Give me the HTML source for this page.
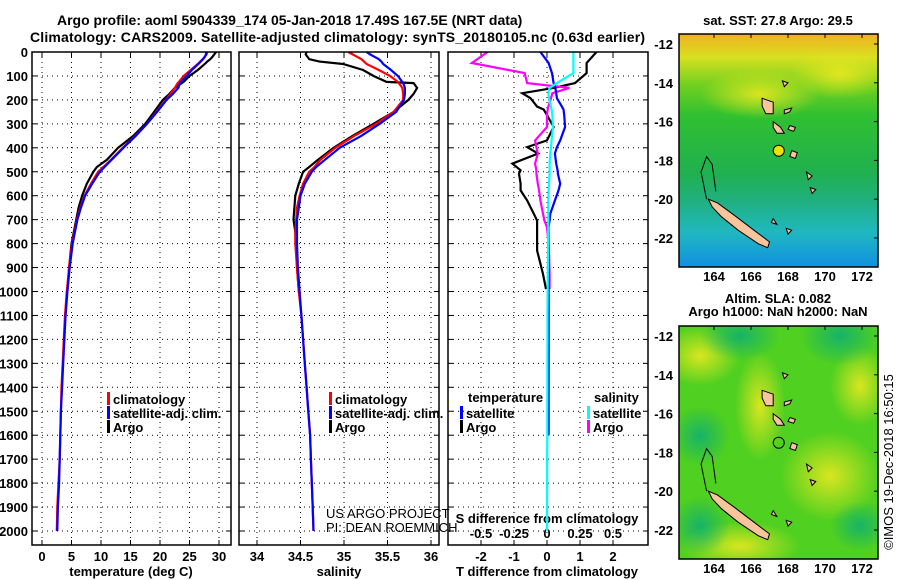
<!DOCTYPE html>
<html><head><meta charset="utf-8">
<style>
html,body{margin:0;padding:0;background:#fff;}
svg{display:block;font-family:"Liberation Sans",Arial,sans-serif;}
.b{font-weight:bold;font-size:13px;}
.t{font-weight:bold;font-size:14px;}
</style></head>
<body>
<svg id="chart" width="900" height="580" viewBox="0 0 900 580" xmlns="http://www.w3.org/2000/svg">
<defs>
<linearGradient id="sstg" x1="0" y1="0" x2="0" y2="1">
<stop offset="0" stop-color="#f0b020"/><stop offset="0.1" stop-color="#d8e020"/>
<stop offset="0.22" stop-color="#70d020"/><stop offset="0.35" stop-color="#30c030"/>
<stop offset="0.6" stop-color="#20b050"/><stop offset="0.72" stop-color="#20b080"/>
<stop offset="0.85" stop-color="#20b8c0"/><stop offset="1" stop-color="#1090e0"/>
</linearGradient>
<radialGradient id="y1" cx="0.5" cy="0.5" r="0.5"><stop offset="0" stop-color="#e8e820" stop-opacity="0.9"/><stop offset="1" stop-color="#e8e820" stop-opacity="0"/></radialGradient>
<radialGradient id="g1" cx="0.5" cy="0.5" r="0.5"><stop offset="0" stop-color="#10b070" stop-opacity="0.9"/><stop offset="1" stop-color="#10b070" stop-opacity="0"/></radialGradient>
<clipPath id="c1"><rect x="32" y="52" width="199" height="493"/></clipPath>
<clipPath id="c2"><rect x="239" y="52" width="200" height="493"/></clipPath>
<clipPath id="c3"><rect x="448" y="52" width="200" height="493"/></clipPath>
<clipPath id="cm1"><rect x="679" y="34" width="199" height="233"/></clipPath>
<clipPath id="cm2"><rect x="679" y="326" width="199" height="233"/></clipPath>
</defs>
<text class="t" x="57" y="25">Argo profile: aoml 5904339_174 05-Jan-2018 17.49S 167.5E (NRT data)</text>
<text class="t" x="30" y="42" textLength="615">Climatology: CARS2009. Satellite-adjusted climatology: synTS_20180105.nc (0.63d earlier)</text>
<g id="g"></g>
</svg>
<script>
const depths=[0,10,20,30,40,50,75,100,125,130,150,175,200,250,300,350,400,450,480,500,550,600,650,700,750,800,900,1000,1100,1200,1300,1400,1500,1600,1700,1800,1900,2000];
const tempClim=[28.0,27.9,27.6,27.2,26.8,26.4,25.2,24.0,23.2,23.0,22.5,21.8,21.0,19.4,17.8,15.8,13.7,11.7,10.4,9.5,8.3,7.2,6.5,5.9,5.5,5.1,4.6,4.2,3.9,3.7,3.5,3.3,3.2,3.1,3.0,2.8,2.6,2.5];
const tempSat=[27.8,27.8,27.6,27.3,26.9,26.5,25.4,24.5,23.6,23.4,23.1,22.2,21.1,19.5,17.8,15.9,13.8,11.8,10.6,9.8,8.5,7.3,6.6,6.0,5.6,5.2,4.7,4.3,4.0,3.8,3.6,3.4,3.2,3.1,3.0,2.9,2.7,2.6];
const tempArgo=[29.5,29.2,28.9,28.5,28.0,27.6,26.4,25.0,24.0,23.7,22.5,21.6,20.5,19.0,17.5,15.5,12.9,11.0,9.3,8.7,7.6,6.8,6.2,5.8,5.4,5.0,4.6,4.3];
const salClim=[35.05,35.1,35.15,35.2,35.23,35.26,35.4,35.53,35.62,35.63,35.67,35.68,35.68,35.57,35.37,35.12,34.9,34.73,34.66,34.6,34.53,34.49,34.46,34.45,34.44,34.44,34.46,34.48,34.51,34.53,34.55,34.57,34.59,34.61,34.62,34.63,34.64,34.65];
const salSat=[35.26,35.3,35.35,35.4,35.43,35.45,35.54,35.62,35.67,35.68,35.7,35.7,35.69,35.6,35.41,35.2,34.95,34.78,34.68,34.63,34.55,34.5,34.48,34.46,34.46,34.46,34.47,34.49,34.51,34.53,34.55,34.57,34.59,34.61,34.62,34.63,34.64,34.65];
const salArgo=[34.57,34.56,34.58,34.6,34.72,34.99,35.22,35.34,35.49,35.8,35.84,35.8,35.74,35.57,35.34,35.1,34.88,34.7,34.6,34.53,34.48,34.44,34.43,34.42,34.44,34.45,34.46,34.48];
const dDepths=[0,46,88,130,150,172,193,228,240,263,313,369,397,424,466,494,508,550,578,620,675,704,731,787,829,927,990,1100,1200,1300,1400,1500,1600,1700,1800,1900,2000];
const dTsat=[-0.2,0.05,0.15,0.2,0.25,0.28,0.3,0.45,0.5,0.52,0.55,0.4,0.3,0.24,0.28,0.32,0.33,0.4,0.35,0.24,0.1,0.08,0.05,0.05,0.05,0.05,0.05,0.05,0.05,0.05,0.05,0.05,0.05];
const dTargo=[1.5,1.2,1.2,0.85,0.2,-0.75,-0.5,-0.3,-0.1,0,0.2,0,-0.6,-0.27,-1.05,-0.8,-0.85,-0.8,-0.8,-0.6,-0.4,-0.3,-0.3,-0.3,-0.3,-0.12,-0.03];
const dSsat=[0.2,0.2,0.2,0.075,0.02,0.01,0.015,0.03,0.035,0.04,0.045,0.035,0.03,0.025,0.02,0.02,0.02,0.015,0.012,0.01,0.01,0.01,0.01,0.008,0.008,0.006,0.005,0.004,0.004,0.003,0.003,0.002,0.002,0.001,0.001,0,0];
const dSargo=[-0.45,-0.57,-0.17,-0.15,0.17,0.04,0.03,0.01,0.005,0,0,-0.09,-0.08,-0.07,-0.09,-0.08,-0.08,-0.07,-0.06,-0.05,-0.03,-0.02,0,0.01,0.015,0.02,0.02];
const tTicks=[0,5,10,15,20,25,30];
const sTicks=[34,34.5,35,35.5,36];
const sTickLabels=["34","34.5","35","35.5","36"];
const dTTicks=[-2,-1,0,1,2];
const dSTicks=[-0.5,-0.25,0,0.25,0.5];
const dSTickLabels=["-0.5","-0.25","0","0.25","0.5"];
const depthTicks=[0,100,200,300,400,500,600,700,800,900,1000,1100,1200,1300,1400,1500,1600,1700,1800,1900,2000];
const lonTicks=[164,166,168,170,172];
const latTicks=[-12,-14,-16,-18,-20,-22];

const NS='http://www.w3.org/2000/svg';
const G=document.getElementById('g');
function mk(tag,attrs,parent){const e=document.createElementNS(NS,tag);for(const k in attrs)e.setAttribute(k,attrs[k]);(parent||G).appendChild(e);return e;}
const yD=d=>52+d*0.2395;
const xT=v=>42+v*5.9;
const xS=v=>257+(v-34)*87;
const xDT=v=>547+v*33;
const xDS=v=>547+v*132;
const panels=[[32,199,'c1'],[239,200,'c2'],[448,200,'c3']];

function pathFrom(vals,dd,xf){let s='';for(let i=0;i<vals.length;i++){s+=(i?'L':'M')+xf(vals[i]).toFixed(1)+','+yD(dd[i]).toFixed(1);}return s;}
function series(vals,dd,xf,color,clip,name){
  const p=mk('path',{d:pathFrom(vals,dd,xf),fill:'none',stroke:color,'stroke-width':2.2,'clip-path':'url(#'+clip+')'});
  
  
}
// panels frames & grids
panels.forEach((pn,i)=>{
  const [x0,w]=pn;
  const grp=mk('g',{});
  
  
  depthTicks.forEach(d=>{mk('line',{x1:x0,x2:x0+w,y1:yD(d),y2:yD(d),stroke:'#000','stroke-width':1,'stroke-dasharray':'1,4'},grp);
    mk('line',{x1:x0,x2:x0+5,y1:yD(d),y2:yD(d),stroke:'#000'},grp);mk('line',{x1:x0+w-5,x2:x0+w,y1:yD(d),y2:yD(d),stroke:'#000'},grp);});
  const xs=i==0?tTicks.map(xT):i==1?sTicks.map(xS):dTTicks.map(xDT);
  xs.forEach(x=>{mk('line',{x1:x,x2:x,y1:52,y2:545,stroke:'#000','stroke-dasharray':'1,4'},grp);
    mk('line',{x1:x,x2:x,y1:540,y2:545,stroke:'#000'},grp);mk('line',{x1:x,x2:x,y1:52,y2:57,stroke:'#000'},grp);});
});
// depth labels
depthTicks.forEach(d=>{const t=mk('text',{x:28,y:yD(d)+5,'text-anchor':'end',class:'b'});t.textContent=d;
  });
tTicks.forEach(v=>{const t=mk('text',{x:xT(v),y:561,'text-anchor':'middle',class:'b'});t.textContent=v;
  });
sTicks.forEach((v,i)=>{const t=mk('text',{x:xS(v),y:561,'text-anchor':'middle',class:'b'});t.textContent=sTickLabels[i];
  });
dTTicks.forEach(v=>{const t=mk('text',{x:xDT(v),y:561,'text-anchor':'middle',class:'b'});t.textContent=v;
  });
dSTicks.forEach((v,i)=>{const t=mk('text',{x:xDS(v),y:538,'text-anchor':'middle',class:'b'});t.textContent=dSTickLabels[i];
  });
[[131,'temperature (deg C)','temperature-axis-title'],[339,'salinity','salinity-axis-title'],[547,'T difference from climatology','t-diff-axis-title']].forEach(a=>{
  const t=mk('text',{x:a[0],y:576,'text-anchor':'middle',class:'b'});t.textContent=a[1];
  });
{const t=mk('text',{x:547,y:523,'text-anchor':'middle',class:'b'});t.textContent='S difference from climatology';
 }
// series
series(tempArgo,depths,xT,'#000','c1','temperature-argo-line');
series(tempClim,depths,xT,'#f00','c1','temperature-climatology-line');
series(tempSat,depths,xT,'#00f','c1','temperature-satellite-line');
series(salArgo,depths,xS,'#000','c2','salinity-argo-line');
series(salClim,depths,xS,'#f00','c2','salinity-climatology-line');
series(salSat,depths,xS,'#00f','c2','salinity-satellite-line');
series(dTargo,dDepths,xDT,'#000','c3','t-diff-argo-line');
series(dSargo,dDepths,xDS,'#f0f','c3','s-diff-argo-line');
series(dTsat,dDepths,xDT,'#00f','c3','t-diff-satellite-line');
series(dSsat,dDepths,xDS,'#0ff','c3','s-diff-satellite-line');
// frames
panels.forEach((pn,i)=>{const r=mk('rect',{x:pn[0],y:52,width:pn[1],height:493,fill:'none',stroke:'#000','stroke-width':1.5});
  });
// legends
function leg(x,y,color,label,name){mk('rect',{x:x,y:y-10,width:3,height:13,fill:color});
  const t=mk('text',{x:x+6,y:y+2,class:'b'});t.textContent=label;
  }
[[107,'p1'],[329,'p2']].forEach(l=>{leg(l[0],402,'#f00','climatology',l[1]+'-legend-climatology');
  leg(l[0],416,'#00f','satellite-adj. clim.',l[1]+'-legend-satellite');leg(l[0],430,'#000','Argo',l[1]+'-legend-argo');});
{const t=mk('text',{x:468,y:402,class:'b'});t.textContent='temperature';
 const u=mk('text',{x:594,y:402,class:'b'});u.textContent='salinity';}
leg(460,416,'#00f','satellite','legend-t-satellite');leg(460,430,'#000','Argo','legend-t-argo');
leg(587,416,'#0ff','satellite','legend-s-satellite');leg(587,430,'#f0f','Argo','legend-s-argo');
{const t=mk('text',{x:326,y:518,'font-size':'13'});t.textContent='US ARGO PROJECT';
 const u=mk('text',{x:326,y:532,'font-size':'13'});u.textContent='PI: DEAN ROEMMICH';}

// maps
const xL=lon=>714+(lon-164)*18.5;
const islands=[
 [[163.7,-20.0],[164.2,-20.2],[165.2,-20.9],[166.3,-21.7],[167.0,-22.2],[166.9,-22.5],[166.4,-22.3],[165.3,-21.6],[164.4,-20.9],[163.9,-20.4]],
 [[166.6,-14.8],[167.2,-15.0],[167.2,-15.6],[166.8,-15.6],[166.6,-15.2]],
 [[167.2,-16.0],[167.6,-16.3],[167.8,-16.6],[167.4,-16.6],[167.2,-16.3]],
 [[168.1,-16.2],[168.4,-16.3],[168.3,-16.5],[168.0,-16.4]],
 [[168.2,-17.5],[168.5,-17.6],[168.4,-17.9],[168.1,-17.8]],
 [[167.8,-15.4],[168.2,-15.3],[168.1,-15.5],[167.8,-15.6]],
 [[169.0,-18.6],[169.3,-18.8],[169.1,-19.0]],
 [[169.2,-19.4],[169.5,-19.5],[169.3,-19.7]],
 [[167.7,-13.9],[168.0,-14.0],[167.8,-14.2]],
 [[167.2,-21.0],[167.4,-21.3],[167.1,-21.2]],
 [[167.9,-21.5],[168.2,-21.6],[168.0,-21.8]]
];
function drawMap(top,clip,which){
  const yL=lat=>top+10+(-12-lat)*19.4;
  const grp=mk('g',{'clip-path':'url(#'+clip+')'});
  
  
  if(which==='sst'){
    mk('rect',{x:679,y:top,width:199,height:233,fill:'url(#sstg)'},grp);
    mk('ellipse',{cx:760,cy:top+60,rx:60,ry:25,fill:'url(#y1)'},grp);
    mk('ellipse',{cx:840,cy:top+40,rx:50,ry:25,fill:'url(#y1)'},grp);
  } else {
    mk('rect',{x:679,y:top,width:199,height:233,fill:'#50d020'},grp);
    [[700,top+30,40,30,'y1'],[760,top+80,25,55,'y1'],[830,top+150,50,45,'y1'],[740,top+220,60,25,'y1'],[860,top+60,30,40,'y1'],
     [700,top+110,30,30,'g1'],[740,top+10,40,25,'g1'],[840,top+10,40,30,'g1'],[860,top+200,30,25,'g1'],[700,top+200,30,30,'g1']].forEach(e=>
      mk('ellipse',{cx:e[0],cy:e[1],rx:e[2],ry:e[3],fill:'url(#'+e[4]+')'},grp));
  }
  islands.forEach(isl=>{mk('polygon',{points:isl.map(p=>xL(p[0]).toFixed(1)+','+yL(p[1]).toFixed(1)).join(' '),fill:'#f8c49c',stroke:'#000','stroke-width':1},grp);});
  mk('path',{d:'M'+xL(163.6)+','+yL(-20.0)+' L'+xL(163.3)+','+yL(-18.6)+' L'+xL(163.6)+','+yL(-17.8)+' L'+xL(163.9)+','+yL(-18.2)+' L'+xL(164.1)+','+yL(-19.6),fill:'none',stroke:'#000','stroke-width':1},grp);
  const dot=mk('circle',{cx:xL(167.5),cy:yL(-17.5),r:5.5,fill:which==='sst'?'#f0e000':'none',stroke:'#000','stroke-width':1});
  
  
  mk('rect',{x:679,y:top,width:199,height:233,fill:'none',stroke:'#000','stroke-width':1.5});
  lonTicks.forEach(l=>{const t=mk('text',{x:xL(l),y:top+247,'text-anchor':'middle',class:'b'});t.textContent=l;
    
    mk('line',{x1:xL(l),x2:xL(l),y1:top,y2:top+4,stroke:'#000'});});
  latTicks.forEach(l=>{const t=mk('text',{x:673,y:yL(l)+5,'text-anchor':'end',class:'b'});t.textContent=l;
    
    mk('line',{x1:874,x2:878,y1:yL(l),y2:yL(l),stroke:'#000'});});
}
drawMap(34,'cm1','sst');
drawMap(326,'cm2','sla');
[[778,25,'sat. SST: 27.8 Argo: 29.5','sst-map-title'],[778,303,'Altim. SLA: 0.082','sla-map-title'],[778,316,'Argo h1000: NaN h2000: NaN','height-title']].forEach(a=>{
  const t=mk('text',{x:a[0],y:a[1],'text-anchor':'middle',class:'b','font-size':'12'});t.textContent=a[2];
  });
{const t=mk('text',{x:0,y:0,'text-anchor':'middle','font-size':'13',transform:'translate(893,462) rotate(-90)'});t.textContent='©IMOS 19-Dec-2018 16:50:15';
 }
</script>
</body></html>
